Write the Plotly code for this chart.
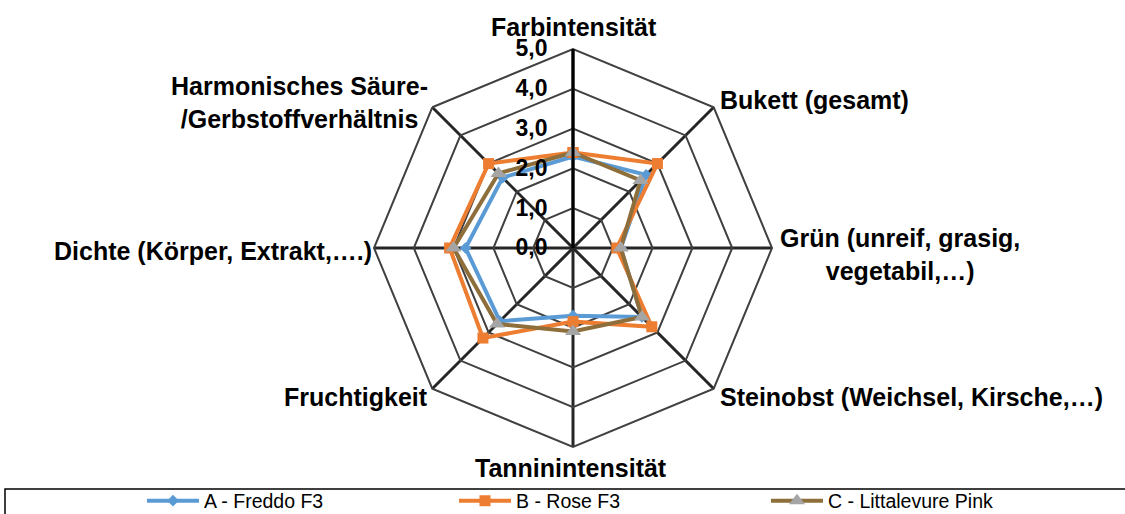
import plotly.graph_objects as go

categories = [
    "Farbintensität",
    "Bukett (gesamt)",
    "Grün (unreif, grasig,<br>vegetabil,…)",
    "Steinobst (Weichsel, Kirsche,…)",
    "Tanninintensität",
    "Fruchtigkeit",
    "Dichte (Körper, Extrakt,….)",
    "Harmonisches Säure-<br>/Gerbstoffverhältnis",
]
series_names = ["A - Freddo F3", "B - Rose F3", "C - Littalevure Pink"]
values_a = [2.3, 2.6, 1.2, 2.45, 1.7, 2.6, 2.7, 2.5]
values_b = [2.4, 3.0, 1.1, 2.8, 1.85, 3.2, 3.1, 3.0]
values_c = [2.4, 2.4, 1.2, 2.45, 2.1, 2.7, 3.0, 2.65]
tick_values = [0, 1, 2, 3, 4, 5]
tick_labels = ["0,0", "1,0", "2,0", "3,0", "4,0", "5,0"]

W, H = 1125, 514
FONT = "Liberation Sans, Arial, sans-serif"

styles = [
    dict(line=dict(color="#5B9BD5", width=4), marker=dict(symbol="diamond", size=9, color="#5B9BD5")),
    dict(line=dict(color="#ED7D31", width=4), marker=dict(symbol="square", size=11, color="#ED7D31")),
    dict(line=dict(color="#8E6E3A", width=4), marker=dict(symbol="triangle-up", size=14, color="#A5A5A5")),
]

theta_closed = categories + [categories[0]]
fig = go.Figure()
for name, vals, st in zip(series_names, [values_a, values_b, values_c], styles):
    fig.add_trace(go.Scatterpolar(
        r=vals + [vals[0]], theta=theta_closed, mode="lines+markers",
        name=name, line=st["line"], marker=st["marker"],
    ))

# label positions (pixels) for category names
label_pos = [
    (574, 27, "center"),
    (718, 100, "left"),
    (900, 254, "center"),
    (718, 397, "left"),
    (571, 468, "center"),
    (430, 397, "right"),
    (374, 251, "right"),
    (299, 103, "center"),
]
annotations = []
for text, (px, py, al) in zip(categories, label_pos):
    annotations.append(dict(
        text="<b>" + text.replace("<br>", "</b><br><b>") + "</b>",
        x=px / W, y=1 - py / H, xref="paper", yref="paper",
        xanchor=al, yanchor="middle", showarrow=False, align="center",
        font=dict(family=FONT, size=25, color="#000000"),
    ))

fig.update_layout(
    width=W, height=H,
    margin=dict(l=0, r=0, t=0, b=0, autoexpand=False),
    paper_bgcolor="white",
    plot_bgcolor="white",
    font=dict(family=FONT, color="#000000"),
    polar=dict(
        domain=dict(x=[374 / W, 772 / W], y=[1 - 447 / H, 1 - 49 / H]),
        gridshape="linear",
        bgcolor="white",
        radialaxis=dict(
            range=[0, 5], tickvals=tick_values, ticktext=["<b>" + t + "</b>" for t in tick_labels],
            angle=90, tickangle=90, side="counterclockwise",
            showline=True, linecolor="#000000", linewidth=3,
            gridcolor="#404040", gridwidth=2,
            ticks="outside", ticklen=16, tickcolor="rgba(0,0,0,0)",
            tickfont=dict(family=FONT, size=23, color="#000000"),
        ),
        angularaxis=dict(
            rotation=90, direction="clockwise",
            showticklabels=False, ticks="",
            showline=True, linecolor="#404040", linewidth=2,
            gridcolor="#262626", gridwidth=2.5,
        ),
    ),
    showlegend=True,
    legend=dict(
        orientation="h", x=142 / W, y=1 - 501 / H, xanchor="left", yanchor="middle",
        entrywidth=245, entrywidthmode="pixels", itemwidth=52,
        font=dict(family=FONT, size=19.5, color="#000000"),
        bgcolor="rgba(0,0,0,0)", borderwidth=0,
    ),
    annotations=annotations,
    shapes=[dict(type="rect", xref="paper", yref="paper",
                 x0=5 / W, x1=1130 / W, y0=-0.05, y1=1 - 489 / H,
                 line=dict(color="#000000", width=1.5), fillcolor="rgba(0,0,0,0)")],
)

fig.write_html("out.html", config={"displayModeBar": False},
               post_script="document.body.style.margin='0';")
